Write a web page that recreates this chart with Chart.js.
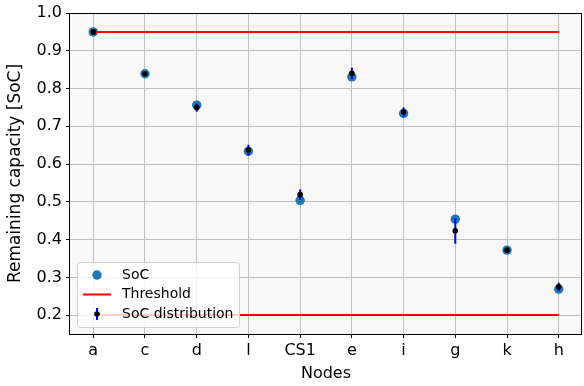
<!DOCTYPE html>
<html>
<head>
<meta charset="utf-8">
<script src="https://cdn.jsdelivr.net/npm/chart.js@4.4.0/dist/chart.umd.min.js"></script>
<style>
  html, body { margin: 0; padding: 0; background: #fff; }
  canvas { display: block; }
</style>
</head>
<body>
<canvas id="chart" width="584" height="386"></canvas>
<script>
// nodes along the route and their remaining capacity
const nodes = ['a', 'c', 'd', 'l', 'CS1', 'e', 'i', 'g', 'k', 'h'];
const soc = [0.950, 0.839, 0.756, 0.634, 0.504, 0.831, 0.734, 0.454, 0.372, 0.269];
const socMean = [0.950, 0.839, 0.750, 0.637, 0.519, 0.840, 0.738, 0.423, 0.372, 0.275];
const socErr = [0.002, 0.002, 0.011, 0.014, 0.014, 0.015, 0.012, 0.034, 0.002, 0.011];
const thresholdHigh = 0.95;
const thresholdLow = 0.2;
const yTicks = [0.2, 0.3, 0.4, 0.5, 0.6, 0.7, 0.8, 0.9, 1.0];

const FONT = "'DejaVu Sans', sans-serif";
const BLUE = '#1f77b4';
const GRID = '#c0c0c0';

const points = (arr) => arr.map((v, i) => ({ x: i, y: v }));

// background of the plot area
const plotBg = {
  id: 'plotBg',
  beforeDraw(chart) {
    const { ctx, chartArea: ca } = chart;
    ctx.save();
    ctx.fillStyle = '#f8f8f8';
    ctx.fillRect(ca.left, ca.top, ca.right - ca.left, ca.bottom - ca.top);
    ctx.restore();
  }
};

// vertical error bars, drawn right before the mean dots
const errorBars = {
  id: 'errorBars',
  beforeDatasetDraw(chart, args) {
    if (args.index !== 3) return;
    const { ctx, scales } = chart;
    ctx.save();
    ctx.strokeStyle = '#0000ff';
    ctx.lineWidth = 2;
    socMean.forEach((m, i) => {
      const x = scales.x.getPixelForValue(i);
      ctx.beginPath();
      ctx.moveTo(x, scales.y.getPixelForValue(m - socErr[i]));
      ctx.lineTo(x, scales.y.getPixelForValue(m + socErr[i]));
      ctx.stroke();
    });
    ctx.restore();
  }
};

// axes frame + legend in the lower left corner
const frameLegend = {
  id: 'frameLegend',
  afterDraw(chart) {
    const { ctx, chartArea: ca } = chart;
    ctx.save();
    ctx.strokeStyle = '#000';
    ctx.lineWidth = 1;
    ctx.strokeRect(Math.round(ca.left) - 0.5, Math.round(ca.top) + 0.5,
      Math.round(ca.right - ca.left), Math.round(ca.bottom - ca.top));

    const w = 162, h = 65;
    const x = ca.left + 7, y = ca.bottom - 7 - h;
    ctx.beginPath();
    ctx.roundRect(x + 0.5, y + 0.5, w, h, 3);
    ctx.fillStyle = 'rgba(255,255,255,0.8)';
    ctx.fill();
    ctx.strokeStyle = '#d0d0d0';
    ctx.stroke();

    const mx = x + 20, tx = x + 45;
    const rows = [y + 13, y + 32.5, y + 52];
    // SoC
    ctx.fillStyle = BLUE;
    ctx.beginPath();
    ctx.arc(mx, rows[0], 4.7, 0, Math.PI * 2);
    ctx.fill();
    // Threshold
    ctx.strokeStyle = '#ff0000';
    ctx.lineWidth = 2;
    ctx.beginPath();
    ctx.moveTo(mx - 14, rows[1]);
    ctx.lineTo(mx + 14, rows[1]);
    ctx.stroke();
    // SoC distribution
    ctx.strokeStyle = '#0000ff';
    ctx.beginPath();
    ctx.moveTo(mx, rows[2] - 6);
    ctx.lineTo(mx, rows[2] + 6);
    ctx.stroke();
    ctx.fillStyle = '#000';
    ctx.beginPath();
    ctx.arc(mx, rows[2], 2.8, 0, Math.PI * 2);
    ctx.fill();

    ctx.fillStyle = '#000';
    ctx.font = '14px ' + FONT;
    ctx.textBaseline = 'middle';
    ctx.fillText('SoC', tx, rows[0]);
    ctx.fillText('Threshold', tx, rows[1]);
    ctx.fillText('SoC distribution', tx, rows[2]);
    ctx.restore();
  }
};

new Chart('chart', {
  type: 'scatter',
  data: {
    datasets: [
      {
        label: 'SoC',
        data: points(soc),
        backgroundColor: BLUE,
        borderColor: BLUE,
        borderWidth: 0,
        pointRadius: 4.7,
        order: 4
      },
      {
        label: 'Threshold',
        type: 'line',
        data: [{ x: 0, y: thresholdHigh }, { x: nodes.length - 1, y: thresholdHigh }],
        borderColor: '#ff0000',
        borderWidth: 2,
        pointRadius: 0,
        order: 3
      },
      {
        label: 'Threshold',
        type: 'line',
        data: [{ x: 0, y: thresholdLow }, { x: nodes.length - 1, y: thresholdLow }],
        borderColor: '#ff0000',
        borderWidth: 2,
        pointRadius: 0,
        order: 2
      },
      {
        label: 'SoC distribution',
        data: points(socMean),
        backgroundColor: '#000',
        borderColor: '#000',
        borderWidth: 0,
        pointRadius: 2.8,
        order: 1
      }
    ]
  },
  options: {
    responsive: false,
    animation: false,
    layout: { autoPadding: false, padding: { top: 13, right: 2, left: 0, bottom: 0 } },
    plugins: { legend: { display: false }, tooltip: { enabled: false } },
    scales: {
      x: {
        type: 'linear',
        min: -0.45,
        max: nodes.length - 1 + 0.45,
        afterBuildTicks: (s) => { s.ticks = nodes.map((_, i) => ({ value: i })); },
        afterFit: (s) => { s.height = 52; s.paddingLeft = 0; s.paddingRight = 0; },
        grid: { color: GRID, lineWidth: 1, tickLength: 4, tickColor: '#000' },
        border: { display: false },
        ticks: {
          autoSkip: false, maxRotation: 0, padding: 3, color: '#000',
          font: { family: FONT, size: 16 },
          callback: (v) => nodes[v]
        },
        title: {
          display: true, text: 'Nodes', color: '#000',
          font: { family: FONT, size: 16 }, padding: { top: 0, bottom: 3 }
        }
      },
      y: {
        min: 0.15,
        max: 1.0,
        afterBuildTicks: (s) => { s.ticks = yTicks.map((v) => ({ value: v })); },
        afterFit: (s) => { s.width = 70; s.paddingTop = 0; s.paddingBottom = 0; },
        grid: { color: GRID, lineWidth: 1, tickLength: 4, tickColor: '#000' },
        border: { display: false },
        ticks: {
          padding: 4, color: '#000',
          font: { family: FONT, size: 16 },
          callback: (v) => v.toFixed(1)
        },
        title: {
          display: true, text: 'Remaining capacity [SoC]', color: '#000',
          font: { family: FONT, size: 17 }, padding: { top: 5, bottom: 0 }
        }
      }
    }
  },
  plugins: [plotBg, errorBars, frameLegend]
});
</script>
</body>
</html>
